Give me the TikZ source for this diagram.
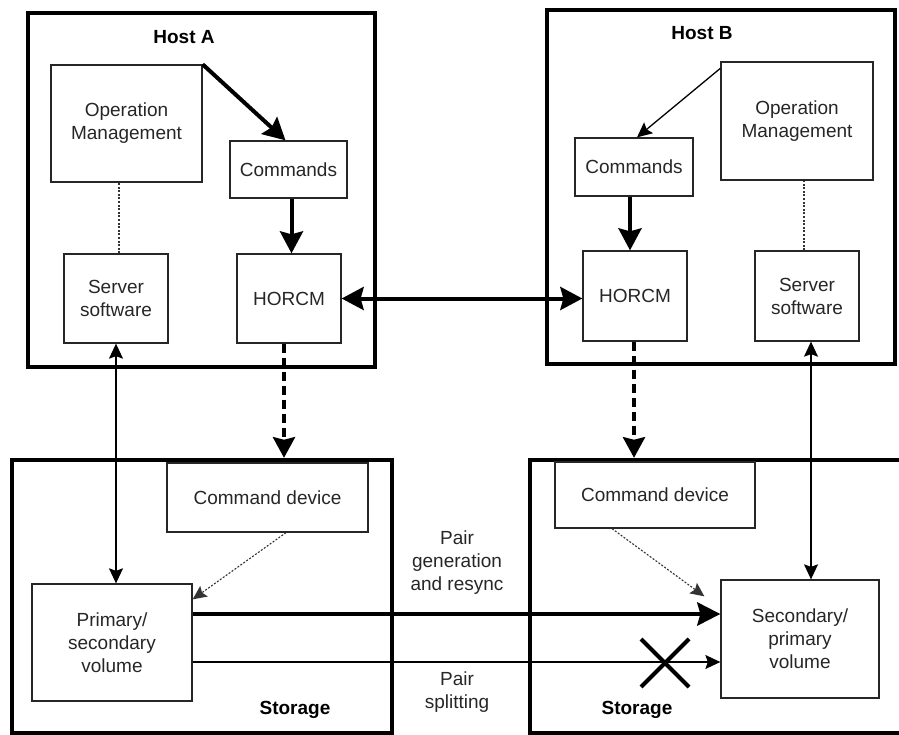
\documentclass[tikz,border=0pt]{standalone}
\usepackage{fontspec}
\setmainfont{Liberation Sans}
\usetikzlibrary{arrows.meta,calc}
\begin{document}
\begin{tikzpicture}[x=1pt,y=-1pt,
  font=\fontsize{19}{23}\selectfont,
  box/.style={draw=black!85,line width=1.3pt,align=center,inner sep=0pt,text=black!85},
  outer/.style={draw=black,line width=4.5pt,inner sep=0pt},
  lbl/.style={font=\fontsize{19}{23}\selectfont\bfseries},
  bighead/.tip={Stealth[length=22pt,width=23pt,inset=3pt]},
  smallhead/.tip={Stealth[length=15pt,width=14pt,inset=2.5pt]},
  thickarr/.style={line width=4pt,-bighead},
  thinarr/.style={line width=1.3pt,-smallhead},
  dblthin/.style={line width=1.3pt,smallhead-smallhead},
  dblthick/.style={line width=4pt,bighead-bighead},
  dasharr/.style={line width=4.5pt,dash pattern=on 9pt off 5pt,-{Stealth[length=21pt,width=23pt,inset=3pt,line width=0pt]}},
  dotline/.style={line width=1.1pt,dash pattern=on 2pt off 1.6pt,draw=black!80},
  dotarr/.style={dotline,-{Stealth[length=14pt,width=13pt,inset=2.5pt,line width=0pt]}}
]
\useasboundingbox (0,0) rectangle (899,735);

% outer boxes
\node[outer,minimum width=347pt,minimum height=354pt] (hA) at (201.5,190) {};
\node[outer,minimum width=348pt,minimum height=354pt] (hB) at (721,187) {};
\node[outer,minimum width=380pt,minimum height=273pt] (stA) at (202,596.5) {};
\node[outer,minimum width=373pt,minimum height=273pt] (stB) at (716.5,596.5) {};

% labels
\node[lbl] (lhA) at (184,37) {Host A};
\node[lbl] (lhB) at (702,33) {Host B};
\node[lbl] (lsA) at (295,710) {Storage};
\node[lbl] (lsB) at (637,710) {Storage};
\node[align=center,text=black!85] (lgen) at (457,562.5) {Pair\\generation\\and resync};
\node[align=center,text=black!85] (lspl) at (457,692.5) {Pair\\splitting};

% inner boxes
\node[box,minimum width=151pt,minimum height=117pt] (opA) at (126.5,123.5) {Operation\\Management};
\node[box,minimum width=117pt,minimum height=57pt] (cmdA) at (288.5,169.5) {Commands};
\node[box,minimum width=104pt,minimum height=89pt] (srvA) at (116,298.5) {Server\\software};
\node[box,minimum width=104pt,minimum height=89pt] (horA) at (289,298.5) {HORCM};

\node[box,minimum width=152pt,minimum height=118pt] (opB) at (797,121) {Operation\\Management};
\node[box,minimum width=118pt,minimum height=58pt] (cmdB) at (634,167) {Commands};
\node[box,minimum width=104pt,minimum height=90pt] (horB) at (635,296) {HORCM};
\node[box,minimum width=104pt,minimum height=90pt] (srvB) at (807,296) {Server\\software};

\node[box,minimum width=201pt,minimum height=69pt] (cdA) at (267.5,497.5) {Command device};
\node[box,minimum width=200pt,minimum height=66pt] (cdB) at (655,495) {Command device};
\node[box,minimum width=160pt,minimum height=117pt] (pv) at (112,642.5) {Primary/\\secondary\\volume};
\node[box,minimum width=158pt,minimum height=118pt] (sv) at (800,639) {Secondary/\\primary\\volume};

% host A connectors
\draw[thickarr] (opA.north east) -- ([xshift=-3pt]cmdA.north);
\draw[thickarr] ([xshift=3pt]cmdA.south) -- ([xshift=3pt]cmdA.south |- horA.north);
\draw[dotline] ([xshift=3pt]srvA.north) -- ([xshift=3pt]srvA.north |- opA.south);

% host B connectors
\draw[thinarr] ([yshift=-7pt]opB.north west) -- ([xshift=3pt]cmdB.north);
\draw[thickarr] ([xshift=-4pt]cmdB.south) -- ([xshift=-4pt]cmdB.south |- horB.north);
\draw[dotline] ([xshift=-3pt]srvB.north) -- ([xshift=-3pt]srvB.north |- opB.south);

% HORCM link
\draw[dblthick] (horA.east) -- (horA.east -| horB.west);

% host to storage
\draw[dasharr] ([xshift=-5pt]horA.south) -- ([xshift=-5pt]horA.south |- stA.north);
\draw[dasharr] ([xshift=-1pt]horB.south) -- ([xshift=-1pt]horB.south |- stB.north);
\draw[dblthin] (srvA.south) -- (srvA.south |- pv.north);
\draw[dblthin] ([xshift=4pt]srvB.south) -- ([xshift=4pt]srvB.south |- sv.north);

% command devices to volumes
\draw[dotarr] ([xshift=18.5pt]cdA.south) -- ([yshift=-16pt]pv.north east);
\draw[dotarr] ([xshift=-43pt]cdB.south) -- ([xshift=-16pt,yshift=-17pt]sv.north west);

% pair lines
\draw[line width=4.5pt,-{Stealth[length=23pt,width=23pt,inset=3pt]}] ([yshift=28.5pt]pv.east) -- ([yshift=28.5pt]pv.east -| sv.west);
\draw[thinarr] ([yshift=-19.5pt]pv.east) -- ([yshift=-19.5pt]pv.east -| sv.west);

% cross
\coordinate (xc) at (665,663);
\draw[line width=4pt] ($(xc)+(-24,-24)$) -- ($(xc)+(24,24)$);
\draw[line width=4pt] ($(xc)+(-24,24)$) -- ($(xc)+(24,-24)$);
\end{tikzpicture}
\end{document}
